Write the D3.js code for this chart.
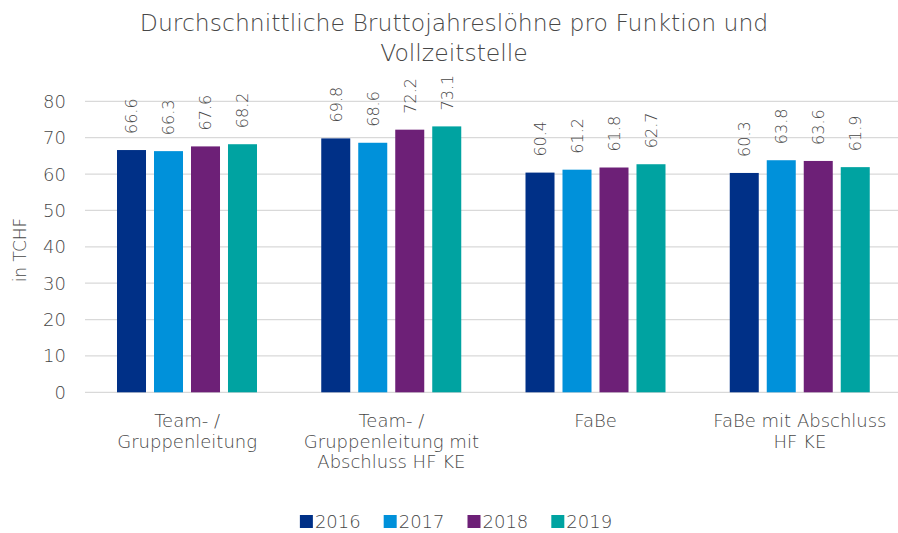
<!doctype html>
<html>
<head>
<meta charset="utf-8">
<style>
  body { margin: 0; background: #fff; }
  svg { display: block; }
  text { font-family: "DejaVu Sans", sans-serif; font-weight: 200; fill: #474747; }
</style>
<script src="https://d3js.org/d3.v7.min.js"></script>
</head>
<body>
<script>
  var categories = [
    ["Team- /", "Gruppenleitung"],
    ["Team- /", "Gruppenleitung mit", "Abschluss HF KE"],
    ["FaBe"],
    ["FaBe mit Abschluss", "HF KE"]
  ];
  var years = ["2016", "2017", "2018", "2019"];
  var v2016 = [66.6, 69.8, 60.4, 60.3];
  var v2017 = [66.3, 68.6, 61.2, 63.8];
  var v2018 = [67.6, 72.2, 61.8, 63.6];
  var v2019 = [68.2, 73.1, 62.7, 61.9];
  var colors = ["#003087", "#0091da", "#6d2077", "#00a3a1"];
  var yTicks = [0, 10, 20, 30, 40, 50, 60, 70, 80];

  var series = [v2016, v2017, v2018, v2019];
  var W = 898, H = 533;

  var svg = d3.select("body").append("svg")
    .attr("width", W)
    .attr("height", H);

  // title
  var title = svg.append("text")
    .attr("text-anchor", "middle")
    .attr("font-size", "23.5px");
  title.append("tspan").attr("x", 454).attr("y", 31).text("Durchschnittliche Bruttojahreslöhne pro Funktion und");
  title.append("tspan").attr("x", 454).attr("y", 61).text("Vollzeitstelle");

  var x = d3.scaleBand()
    .domain(d3.range(categories.length))
    .range([85, 902]);

  var xInner = d3.scaleBand()
    .domain(years)
    .range([32, 172])
    .paddingInner(0.216);

  var y = d3.scaleLinear()
    .domain([0, 80])
    .range([392.3, 101.3]);

  // gridlines
  svg.append("g")
    .selectAll("line")
    .data(yTicks)
    .enter().append("line")
    .attr("x1", 85)
    .attr("x2", W)
    .attr("y1", function(d) { return y(d); })
    .attr("y2", function(d) { return y(d); })
    .attr("stroke", "#d9d9d9")
    .attr("stroke-width", 1.3);

  // y tick labels
  svg.append("g")
    .selectAll("text")
    .data(yTicks)
    .enter().append("text")
    .attr("x", 66)
    .attr("y", function(d) { return y(d); })
    .attr("dy", "0.36em")
    .attr("text-anchor", "end")
    .attr("font-size", "18px")
    .text(function(d) { return d; });

  // y axis title
  svg.append("text")
    .attr("transform", "translate(20,250) rotate(-90)")
    .attr("text-anchor", "middle")
    .attr("dy", "0.36em")
    .attr("font-size", "17px")
    .text("in TCHF");

  // bars
  var groups = svg.append("g")
    .selectAll("g")
    .data(categories)
    .enter().append("g")
    .attr("transform", function(d, i) { return "translate(" + x(i) + ",0)"; });

  groups.each(function(c, ci) {
    var g = d3.select(this);
    years.forEach(function(yr, si) {
      var v = series[si][ci];
      var bx = xInner(yr);
      g.append("rect")
        .attr("x", bx)
        .attr("y", y(v))
        .attr("width", xInner.bandwidth())
        .attr("height", y(0) - y(v))
        .attr("fill", colors[si]);

      g.append("text")
        .attr("transform", "translate(" + (bx + xInner.bandwidth() / 2) + "," + (y(v) - 16) + ") rotate(-90)")
        .attr("dy", "0.36em")
        .attr("font-size", "16px")
        .text(v.toFixed(1));
    });

    var lbl = g.append("text")
      .attr("text-anchor", "middle")
      .attr("font-size", "18px");
    c.forEach(function(line, li) {
      lbl.append("tspan")
        .attr("x", x.bandwidth() / 2)
        .attr("y", 427 + li * 20.5)
        .text(line);
    });
  });

  // legend
  var legend = svg.append("g");
  var lx = 0;
  years.forEach(function(yr, i) {
    var it = legend.append("g").attr("transform", "translate(" + lx + ",0)");
    it.append("rect")
      .attr("x", 0).attr("y", 515)
      .attr("width", 13).attr("height", 13)
      .attr("fill", colors[i]);
    var t = it.append("text")
      .attr("x", 15).attr("y", 528)
      .attr("font-size", "18px")
      .text(yr);
    lx += 15 + t.node().getComputedTextLength() + 23;
  });
  var lw = lx - 23;
  legend.attr("transform", "translate(" + (456 - lw / 2) + ",0)");
</script>
</body>
</html>
